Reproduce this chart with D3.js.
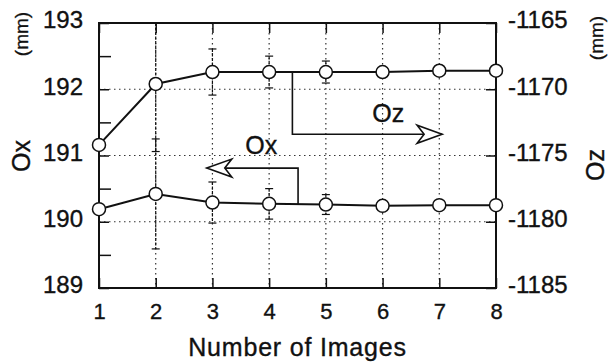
<!DOCTYPE html>
<html>
<head>
<meta charset="utf-8">
<script src="https://cdn.jsdelivr.net/npm/d3@7/dist/d3.min.js"></script>
<style>
  html, body { margin: 0; padding: 0; background: #fff; }
  svg { display: block; font-family: "Liberation Sans", Arial, Helvetica, sans-serif; }
</style>
</head>
<body>
<svg id="chart" width="612" height="364"></svg>
<script>
const images = [1, 2, 3, 4, 5, 6, 7, 8];
const oxValues = [190.19, 190.42, 190.29, 190.27, 190.26, 190.24, 190.25, 190.25];
const oxErrors = [0, 0.83, 0.31, 0.23, 0.15, 0, 0, 0];
const ozValues = [-1174.2, -1169.6, -1168.7, -1168.7, -1168.7, -1168.7, -1168.6, -1168.6];
const ozErrors = [0, 5.1, 1.74, 1.2, 0.83, 0.3, 0, 0];
const xTicks = [1, 2, 3, 4, 5, 6, 7, 8];
const leftTicks = [189, 190, 191, 192, 193];
const leftMinorTicks = [189.5, 190.5, 191.5, 192.5];
const rightTicks = [-1185, -1180, -1175, -1170, -1165];

const svg = d3.select("#chart");
const L = 99, R = 496, T = 23, B = 288;

const x = d3.scaleLinear().domain([1, 8]).range([L, R]);
const yL = d3.scaleLinear().domain([189, 193]).range([B, T]);
const yR = d3.scaleLinear().domain([-1185, -1165]).range([B, T]);

const ink = "#111";

// grid (dotted)
const grid = svg.append("g").attr("stroke", "#333").attr("stroke-width", 1.2)
  .attr("stroke-dasharray", "1.5,3.5").attr("fill", "none");
grid.selectAll("line.v").data(xTicks.slice(1, -1)).join("line")
  .attr("x1", d => x(d)).attr("x2", d => x(d)).attr("y1", T).attr("y2", B);
grid.selectAll("line.h").data(leftTicks.slice(1, -1)).join("line")
  .attr("x1", L).attr("x2", R).attr("y1", d => yL(d)).attr("y2", d => yL(d));

// axes with inward ticks
function styleAxis(g) {
  g.select(".domain").remove();
  g.selectAll(".tick line").attr("stroke", ink).attr("stroke-width", 1.5);
  g.selectAll(".tick text").attr("fill", ink).attr("stroke", ink).attr("stroke-width", 0.35);
}
svg.append("g").attr("transform", `translate(0,${B})`)
  .call(d3.axisBottom(x).tickValues(xTicks).tickSize(-10).tickPadding(31).tickFormat(d3.format("d")))
  .call(styleAxis)
  .call(g => g.selectAll(".tick text").attr("font-size", 22).attr("dy", "0"));
svg.append("g").attr("transform", `translate(0,${T})`)
  .call(d3.axisTop(x).tickValues(xTicks).tickSize(-10).tickFormat(""))
  .call(styleAxis);
svg.append("g").attr("transform", `translate(${L},0)`)
  .call(d3.axisLeft(yL).tickValues(leftTicks).tickSize(-10).tickPadding(16).tickFormat(d3.format("d")))
  .call(styleAxis)
  .call(g => g.selectAll(".tick text").attr("font-size", 24).attr("dy", "0.2em"));
svg.append("g").attr("transform", `translate(${L},0)`)
  .call(d3.axisLeft(yL).tickValues(leftMinorTicks).tickSize(-12).tickFormat(""))
  .call(styleAxis);
svg.append("g").attr("transform", `translate(${R},0)`)
  .call(d3.axisRight(yR).tickValues(rightTicks).tickSize(-10).tickPadding(12).tickFormat(d => d3.format("d")(d).replace("−", "-")))
  .call(styleAxis)
  .call(g => g.selectAll(".tick text").attr("font-size", 24).attr("dy", "0.2em"));

// frame
svg.append("rect").attr("x", L).attr("y", T).attr("width", R - L).attr("height", B - T)
  .attr("fill", "none").attr("stroke", ink).attr("stroke-width", 2);

// error bars
function errorBars(vals, errs, scale) {
  const g = svg.append("g").attr("stroke", ink).attr("stroke-width", 1.2);
  images.forEach((d, i) => {
    if (!errs[i]) return;
    const top = Math.max(T, scale(vals[i] + errs[i]));
    const bot = Math.min(B, scale(vals[i] - errs[i]));
    g.append("line").attr("x1", x(d)).attr("x2", x(d)).attr("y1", top).attr("y2", bot)
      .attr("stroke-dasharray", "3,1.5");
    [scale(vals[i] + errs[i]), scale(vals[i] - errs[i])].forEach(yy => {
      if (yy > T && yy < B)
        g.append("line").attr("x1", x(d) - 4).attr("x2", x(d) + 4).attr("y1", yy).attr("y2", yy);
    });
  });
}
errorBars(oxValues, oxErrors, yL);
errorBars(ozValues, ozErrors, yR);

// annotation arrows
function arrow(points, dir) {
  svg.append("path").attr("d", d3.line()(points)).attr("fill", "none")
    .attr("stroke", ink).attr("stroke-width", 1.6);
  const [tx, ty] = points[points.length - 1];
  const s = dir; // +1 right, -1 left
  const head = [[tx, ty], [tx - s * 25, ty - 9], [tx - s * 18, ty], [tx - s * 25, ty + 9]];
  svg.append("path").attr("d", d3.line()(head) + "Z").attr("fill", "#fff")
    .attr("stroke", ink).attr("stroke-width", 1.6).attr("stroke-linejoin", "miter");
}
// Oz arrow (points to right axis)
arrow([[x(4.41), yR(-1168.7)], [x(4.41), yL(191.32)], [x(7.05), yL(191.32)]], 1);
// Ox arrow (points to left axis)
arrow([[x(4.51), yL(190.26)], [x(4.51), yL(190.81)], [x(2.9), yL(190.81)]], -1);

const label = (sel) => sel.attr("fill", ink).attr("stroke", ink).attr("stroke-width", 0.35);
svg.append("text").attr("x", x(6.1)).attr("y", yL(191.5)).attr("text-anchor", "middle")
  .attr("font-size", 25).call(label).text("Oz");
svg.append("text").attr("x", x(3.86)).attr("y", yL(191.03)).attr("text-anchor", "middle")
  .attr("font-size", 25).call(label).text("Ox");

// series lines and markers
const line = (scale) => d3.line().x((d, i) => x(images[i])).y(d => scale(d));
svg.append("path").datum(ozValues).attr("d", line(yR)).attr("fill", "none")
  .attr("stroke", ink).attr("stroke-width", 2);
svg.append("path").datum(oxValues).attr("d", line(yL)).attr("fill", "none")
  .attr("stroke", ink).attr("stroke-width", 2);
svg.append("g").selectAll("circle").data(ozValues).join("circle")
  .attr("cx", (d, i) => x(images[i])).attr("cy", d => yR(d)).attr("r", 6.5)
  .attr("fill", "#fff").attr("stroke", ink).attr("stroke-width", 1.5);
svg.append("g").selectAll("circle").data(oxValues).join("circle")
  .attr("cx", (d, i) => x(images[i])).attr("cy", d => yL(d)).attr("r", 6.5)
  .attr("fill", "#fff").attr("stroke", ink).attr("stroke-width", 1.5);

// axis titles
svg.append("text").attr("x", (L + R) / 2).attr("y", 356).attr("text-anchor", "middle")
  .attr("font-size", 25).attr("letter-spacing", 0.8).call(label).text("Number of Images");
svg.append("text").attr("transform", "translate(30,156) rotate(-90)").attr("text-anchor", "middle")
  .attr("font-size", 25).call(label).text("Ox");
svg.append("text").attr("transform", "translate(28,34) rotate(-90)").attr("text-anchor", "middle")
  .attr("font-size", 19).call(label).text("(mm)");
svg.append("text").attr("transform", "translate(603,38) rotate(-90)").attr("text-anchor", "middle")
  .attr("font-size", 19).call(label).text("(mm)");
svg.append("text").attr("transform", "translate(604,165) rotate(-90)").attr("text-anchor", "middle")
  .attr("font-size", 25).call(label).text("Oz");
</script>
</body>
</html>
